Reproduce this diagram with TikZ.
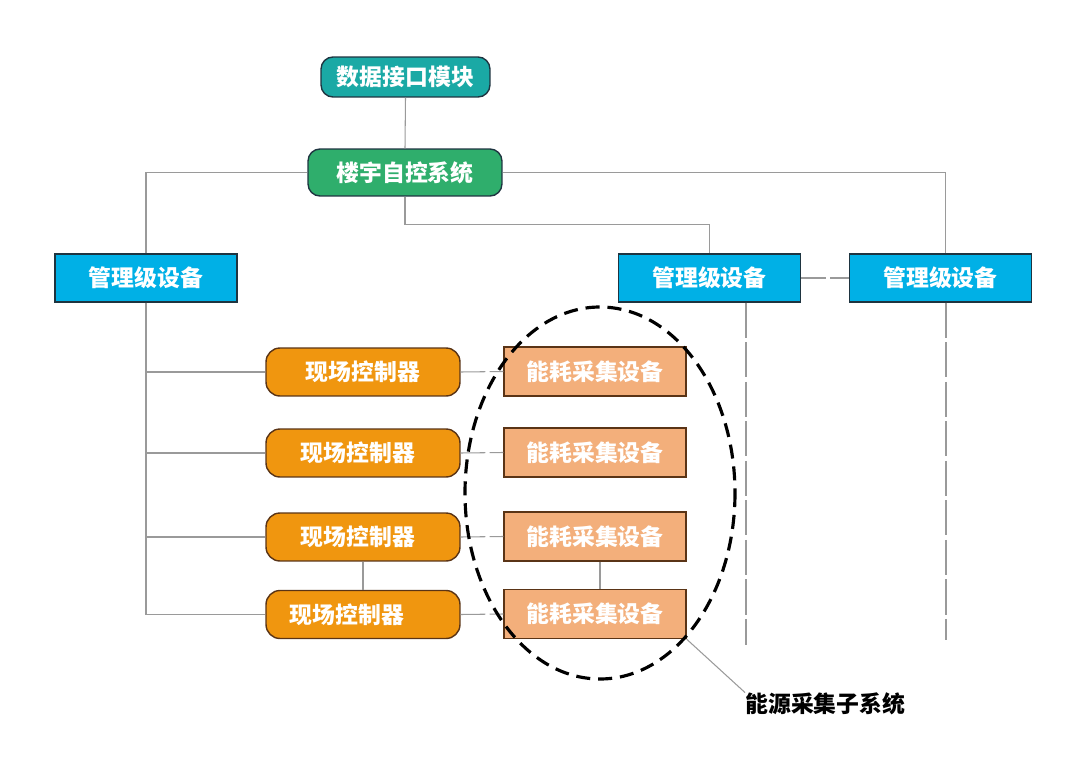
\documentclass[tikz,border=0pt]{standalone}
\usepackage{fontspec}
\newfontfamily\cjk{Noto Sans CJK SC}
\usetikzlibrary{calc}
\definecolor{tealbox}{HTML}{1AA9A5}
\definecolor{greenbox}{HTML}{2FAE6C}
\definecolor{cyanbox}{HTML}{00B0E6}
\definecolor{orangebox}{HTML}{F0960F}
\definecolor{peachbox}{HTML}{F3AF7B}
\definecolor{darkedge}{HTML}{1E3440}
\definecolor{brownedge}{HTML}{5A3416}
\definecolor{conn}{HTML}{9A9A9A}
\tikzset{
  lbl/.style={font=\cjk\bfseries\fontsize{13}{15}\selectfont, text=white, inner sep=0pt},
  topbox/.style={lbl, draw=darkedge, line width=0.8pt, rounded corners=0.24cm},
  mgbox/.style={lbl, draw=darkedge, line width=0.8pt, fill=cyanbox, minimum width=3.64cm, minimum height=0.96cm},
  ctrlbox/.style={lbl, draw=brownedge, line width=0.8pt, fill=orangebox, rounded corners=0.28cm, minimum width=3.88cm, minimum height=0.96cm},
  enbox/.style={lbl, draw=brownedge, line width=0.8pt, fill=peachbox, minimum width=3.64cm, minimum height=0.98cm},
  link/.style={draw=conn, line width=0.6pt},
  dlink/.style={draw=conn, line width=0.6pt, dash pattern=on 14pt off 2.5pt},
  vdlink/.style={draw=conn, line width=0.6pt, dash pattern=on 20pt off 2.5pt},
  subsys/.style={draw=black, line width=1.8pt, dash pattern=on 8pt off 4.5pt},
}
\begin{document}
\begin{tikzpicture}[x=0.02cm, y=-0.02cm]
\useasboundingbox (0,0) rectangle (1080,764);
% nodes
\node[topbox, fill=tealbox, minimum width=3.38cm, minimum height=0.8cm] (data) at (405.5,77) {数据接口模块};
\node[topbox, fill=greenbox, minimum width=3.88cm, minimum height=0.94cm] (bldg) at (405,172.5) {楼宇自控系统};
\node[mgbox] (mgL) at (146,278) {管理级设备};
\node[mgbox] (mgM) at (709.5,278) {管理级设备};
\node[mgbox] (mgR) at (940.5,278) {管理级设备};
\node[ctrlbox] (c1) at (363,372) {现场控制器};
\node[ctrlbox] (c2) at (363,453) {\hspace*{-0.2cm}现场控制器};
\node[ctrlbox] (c3) at (363,537) {\hspace*{-0.2cm}现场控制器};
\node[ctrlbox] (c4) at (363,614.5) {\hspace*{-0.64cm}现场控制器};
\node[enbox] (e1) at (595,371.5) {能耗采集设备};
\node[enbox] (e2) at (595,452.5) {能耗采集设备};
\node[enbox] (e3) at (595,536.5) {能耗采集设备};
\node[enbox] (e4) at (595,614) {能耗采集设备};
\node[font=\cjk\bfseries\fontsize{13}{15}\selectfont, text=black, inner sep=0pt, anchor=west] (sub) at (745,704) {能源采集子系统};
\coordinate (mMend) at (746,645);
\coordinate (mRend) at (946,640);
% connectors
\draw[link] (data.south) -- (bldg.north);
\draw[link] (bldg.west) -| (mgL.north);
\draw[link] (bldg.east) -| ($(mgR.north)+(5,0)$);
\draw[link] (bldg.south) -- ++(0,28) -| (mgM.north);
\draw[link] (mgL.south) |- (c4.west);
\draw[link] (mgL.south |- c1.west) -- (c1.west);
\draw[link] (mgL.south |- c2.west) -- (c2.west);
\draw[link] (mgL.south |- c3.west) -- (c3.west);
\draw[dlink] (c1.east) -- (e1.west);
\draw[dlink] (c2.east) -- (e2.west);
\draw[dlink] (c3.east) -- (e3.west);
\draw[dlink] (c4.east) -- (e4.west);
\draw[link] (c3.south) -- (c4.north);
\draw[link] ($(e3.south)+(5,0)$) -- ($(e4.north)+(5,0)$);
\draw[dlink] (mgM.east) -- (mgR.west);
\draw[vdlink] (mgM.south -| mMend) -- (mMend);
\draw[vdlink] (mgR.south -| mRend) -- (mRend);
\draw[link] (e4.south east) -- (sub.north west);
% subsystem ellipse
\draw[subsys] (600,493) ellipse [x radius=135, y radius=186];
\end{tikzpicture}
\end{document}
